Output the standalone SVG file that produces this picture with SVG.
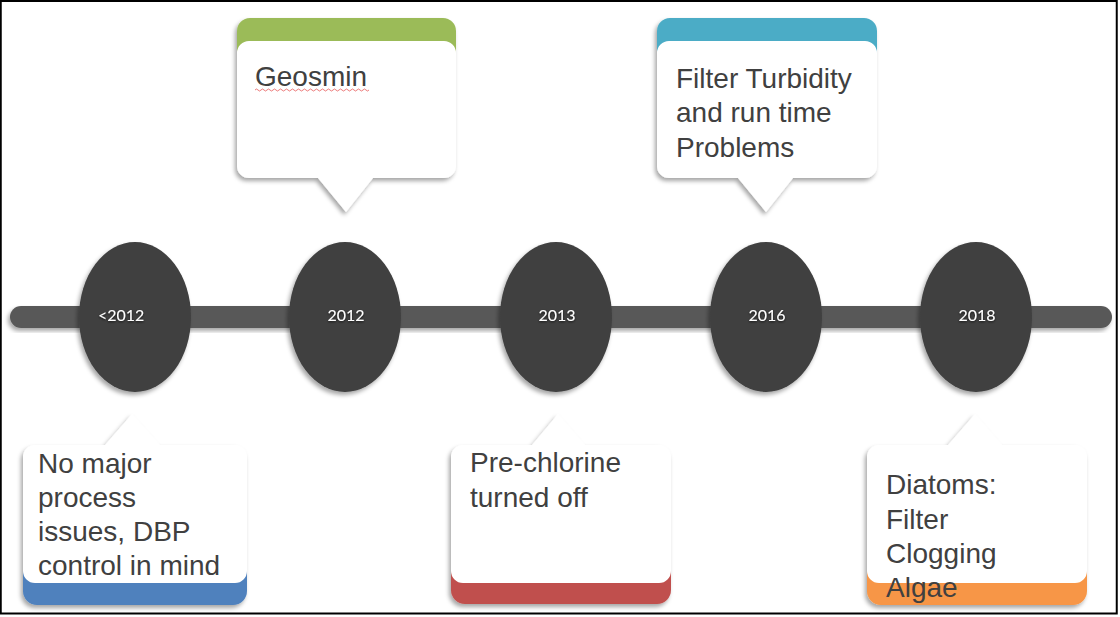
<svg xmlns="http://www.w3.org/2000/svg" width="1120" height="617" viewBox="0 0 1120 617">
<defs>
<filter id="sh" x="-20%" y="-20%" width="140%" height="140%">
<feDropShadow dx="-2" dy="3" stdDeviation="2.2" flood-color="#000" flood-opacity="0.35"/>
</filter>
<filter id="tsh" x="-20%" y="-40%" width="140%" height="180%">
<feDropShadow dx="0" dy="1" stdDeviation="1" flood-color="#000" flood-opacity="0.7"/>
</filter>
<style>
.body{fill:#fff}
.year{fill:#404040}
.lbl{font-family:"Liberation Sans",Arial,sans-serif;font-size:28px;fill:#404040}
.yr{font-family:Lato,"Open Sans",sans-serif;font-size:16px;fill:#fff}
</style>
</defs>
<rect x="0" y="0" width="1120" height="617" fill="#fff"/>
<rect x="0.75" y="1" width="1116" height="612.5" fill="none" stroke="#000" stroke-width="2"/>

<g id="connectors">
<rect x="10" y="306" width="1102" height="22" rx="11" fill="#595959" filter="url(#sh)"/>
</g>

<g id="y2011">
<ellipse cx="135" cy="317" rx="56" ry="75" class="year" filter="url(#sh)"/>
<text x="98" y="321" class="yr" filter="url(#tsh)">&lt;2012</text>
</g>
<g id="y2012">
<ellipse cx="345" cy="317" rx="56" ry="75" class="year" filter="url(#sh)"/>
<text x="346" y="321" class="yr" text-anchor="middle" filter="url(#tsh)">2012</text>
</g>
<g id="y2013">
<ellipse cx="556" cy="317" rx="56" ry="75" class="year" filter="url(#sh)"/>
<text x="557" y="321" class="yr" text-anchor="middle" filter="url(#tsh)">2013</text>
</g>
<g id="y2016">
<ellipse cx="766" cy="317" rx="56" ry="75" class="year" filter="url(#sh)"/>
<text x="767" y="321" class="yr" text-anchor="middle" filter="url(#tsh)">2016</text>
</g>
<g id="y2018">
<ellipse cx="976" cy="317" rx="56" ry="75" class="year" filter="url(#sh)"/>
<text x="977" y="321" class="yr" text-anchor="middle" filter="url(#tsh)">2018</text>
</g>

<g id="geosmin">
<g filter="url(#sh)">
<rect x="237" y="18" width="219" height="60" rx="13" fill="#9BBB59"/>
<path d="M249 41 H444 A12 12 0 0 1 456 53 V166 A12 12 0 0 1 444 178 H373 L346 212 L318 178 H249 A12 12 0 0 1 237 166 V53 A12 12 0 0 1 249 41 Z" class="body"/>
</g>
<text x="255" y="86" class="lbl">Geosmin</text>
<path d="M255 90 q1.5 -2 3 0 t3 0 t3 0 t3 0 t3 0 t3 0 t3 0 t3 0 t3 0 t3 0 t3 0 t3 0 t3 0 t3 0 t3 0 t3 0 t3 0 t3 0 t3 0 t3 0 t3 0 t3 0 t3 0 t3 0 t3 0 t3 0 t3 0 t3 0 t3 0 t3 0 t3 0 t3 0 t3 0 t3 0 t3 0 t3 0 t3 0 t3 0" fill="none" stroke="#e03030" stroke-width="0.8" opacity="0.8"/>
</g>

<g id="turbidity">
<g filter="url(#sh)">
<rect x="657" y="18" width="220" height="60" rx="13" fill="#4BACC6"/>
<path d="M669 41 H865 A12 12 0 0 1 877 53 V166 A12 12 0 0 1 865 178 H793 L766 212 L738 178 H669 A12 12 0 0 1 657 166 V53 A12 12 0 0 1 669 41 Z" class="body"/>
</g>
<text class="lbl"><tspan x="676" y="88">Filter Turbidity</tspan><tspan x="676" y="122">and run time</tspan><tspan x="676" y="157">Problems</tspan></text>
</g>

<g id="nomajor">
<g filter="url(#sh)">
<rect x="23" y="540" width="224" height="65" rx="14" fill="#4F81BD"/>
<path d="M35 445 H105 L132 414 L160 445 H235 A12 12 0 0 1 247 457 V571 A12 12 0 0 1 235 583 H35 A12 12 0 0 1 23 571 V457 A12 12 0 0 1 35 445 Z" class="body"/>
</g>
<text class="lbl"><tspan x="38" y="473">No major</tspan><tspan x="38" y="507">process</tspan><tspan x="38" y="541">issues, DBP</tspan><tspan x="38" y="575">control in mind</tspan></text>
</g>

<g id="prechlorine">
<g filter="url(#sh)">
<rect x="451" y="540" width="220" height="64" rx="14" fill="#C0504D"/>
<path d="M463 445 H532 L558 414 L585 445 H659 A12 12 0 0 1 671 457 V571 A12 12 0 0 1 659 583 H463 A12 12 0 0 1 451 571 V457 A12 12 0 0 1 463 445 Z" class="body"/>
</g>
<text class="lbl"><tspan x="470" y="472">Pre-chlorine</tspan><tspan x="470" y="507">turned off</tspan></text>
</g>

<g id="diatoms">
<g filter="url(#sh)">
<rect x="867" y="540" width="220" height="65" rx="14" fill="#F79646"/>
<path d="M879 445 H948 L975 414 L1002 445 H1075 A12 12 0 0 1 1087 457 V571 A12 12 0 0 1 1075 583 H879 A12 12 0 0 1 867 571 V457 A12 12 0 0 1 879 445 Z" class="body"/>
</g>
<text class="lbl"><tspan x="886" y="494">Diatoms:</tspan><tspan x="886" y="529">Filter</tspan><tspan x="886" y="563">Clogging</tspan><tspan x="886" y="597">Algae</tspan></text>
</g>
</svg>
